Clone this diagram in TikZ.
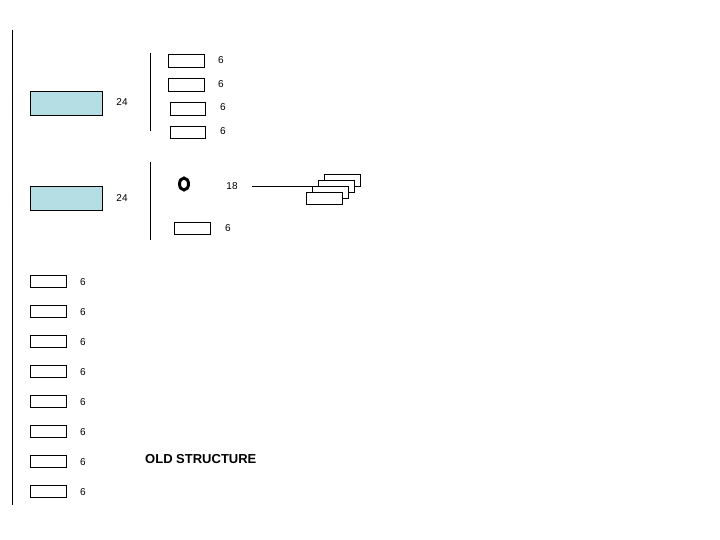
\documentclass[tikz,border=0pt]{standalone}
\usepackage{fontspec}
\setmainfont{Liberation Sans}
\definecolor{lb}{RGB}{180,222,228}
\begin{document}
\begin{tikzpicture}[x=1pt,y=-1pt,
  sb/.style={draw,fill=white,line width=0.8pt},
  lbl/.style={font=\fontsize{10}{12}\selectfont,inner sep=0pt},
  ln/.style={line width=0.8pt}]
\useasboundingbox (0,0) rectangle (720,540);
\draw[ln] (12,30) coordinate (la) -- (12,505) coordinate (lb);
\node[draw,fill=lb,line width=0.6pt,minimum width=72pt,minimum height=24pt,inner sep=0pt] (b1) at (66,103) {};
\node[draw,fill=lb,line width=0.6pt,minimum width=72pt,minimum height=24pt,inner sep=0pt] (b2) at (66,198) {};
\node[lbl] (l1) at (122,102) {24};
\node[lbl] (l2) at (122,198) {24};
\draw[ln] (150,53) coordinate (v1a) -- (150,131) coordinate (v1b);
\draw[ln] (150,162) coordinate (v2a) -- (150,240) coordinate (v2b);
\draw[sb] (168,54) rectangle (204,67); \node[lbl] (t1) at (221,60) {6};
\draw[sb] (168,78) rectangle (204,91); \node[lbl] (t2) at (221,84) {6};
\draw[sb] (170,102) rectangle (205,115); \node[lbl] (t3) at (223,107) {6};
\draw[sb] (170,126) rectangle (205,138); \node[lbl] (t4) at (223,131) {6};
\draw[line width=3pt] (184,184) ellipse (4.5 and 6);
\node[lbl] (e) at (232,186) {18};
\coordinate (eend) at (318,186);
\draw[ln] (252,186) -- (eend);
\draw[sb] (324,174) rectangle (360,186);
\draw[sb] (318,180) rectangle (354,192);
\draw[sb] (312,186) rectangle (348,198);
\draw[sb] (306,192) rectangle (342,204);
\draw[sb] (174,222) rectangle (210,234); \node[lbl] (t5) at (228,228) {6};
\foreach \i in {0,...,7}{
  \draw[sb] (30,{275+30*\i}) rectangle (66,{287+30*\i});
  \node[lbl] (c\i) at (83,{282+30*\i}) {6};
}
\node[font=\bfseries\fontsize{13}{15}\selectfont,anchor=west,inner sep=0pt] (title) at (145,459) {OLD STRUCTURE};
\end{tikzpicture}
\end{document}
